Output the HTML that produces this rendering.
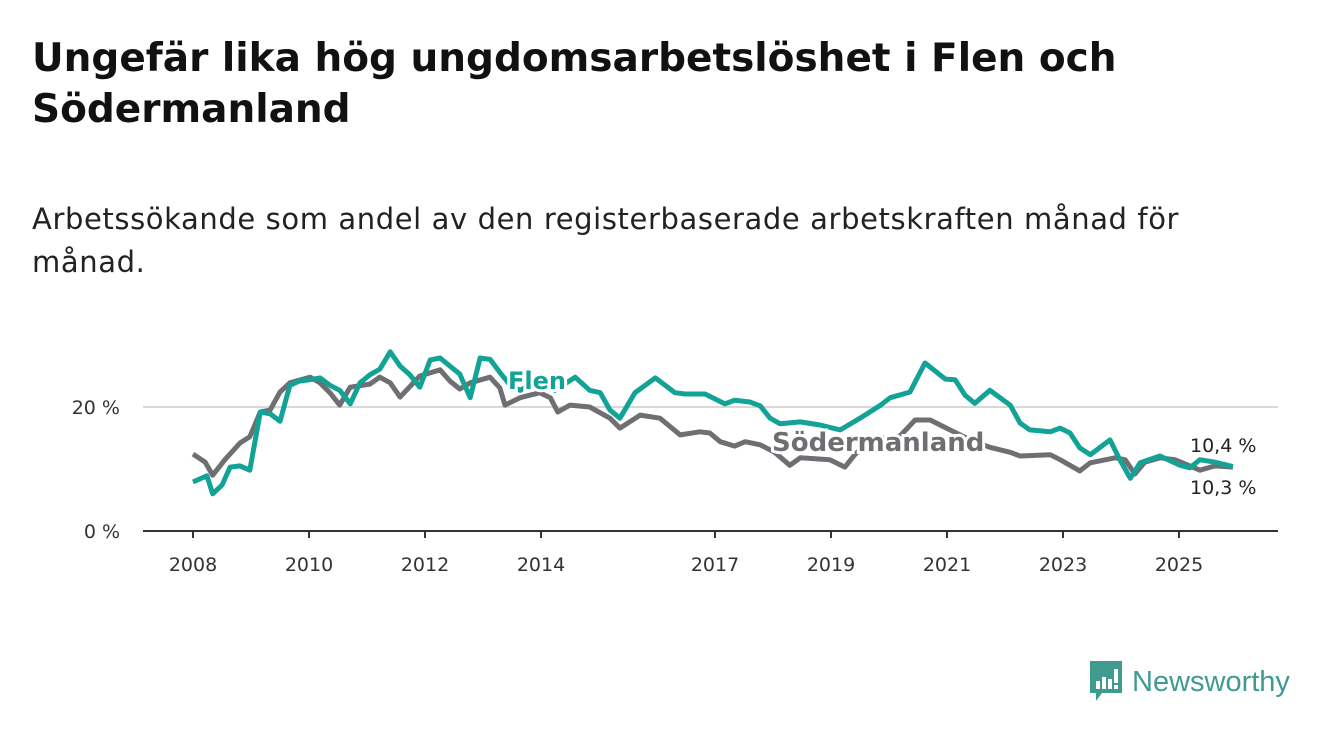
<!DOCTYPE html>
<html><head><meta charset="utf-8"><style>
body{margin:0;width:1340px;height:734px;background:#fff;font-family:"DejaVu Sans","Liberation Sans",sans-serif;overflow:hidden;position:relative}
h1{position:absolute;left:32px;top:33px;margin:0;font-size:39px;line-height:51px;font-weight:bold;color:#111;width:1300px;white-space:nowrap}
.sub{position:absolute;left:32px;top:198px;font-size:29px;letter-spacing:0.6px;line-height:43px;color:#222;width:1300px;white-space:nowrap}
svg{position:absolute;left:0;top:0}
</style></head><body>
<h1>Ungefär lika hög ungdomsarbetslöshet i Flen och<br>Södermanland</h1>
<div class="sub">Arbetssökande som andel av den registerbaserade arbetskraften månad för<br>månad.</div>
<svg id="chart" width="1340" height="734"></svg>
<script>
const flenDates=[2008.00,2008.24,2008.34,2008.50,2008.64,2008.81,2008.98,2009.16,2009.33,2009.50,2009.67,2009.84,2010.02,2010.19,2010.36,2010.53,2010.71,2010.88,2011.05,2011.22,2011.40,2011.57,2011.74,2011.91,2012.09,2012.26,2012.43,2012.60,2012.78,2012.95,2013.12,2013.29,2013.47,2013.64,2013.98,2014.24,2014.59,2014.84,2015.02,2015.19,2015.36,2015.62,2015.97,2016.14,2016.31,2016.48,2016.83,2017.17,2017.34,2017.60,2017.78,2017.95,2018.12,2018.47,2018.81,2019.16,2019.50,2019.84,2020.02,2020.36,2020.62,2020.97,2021.14,2021.31,2021.48,2021.74,2022.09,2022.26,2022.43,2022.78,2022.95,2023.12,2023.29,2023.47,2023.81,2023.98,2024.16,2024.33,2024.67,2025.02,2025.19,2025.36,2025.62,2025.93];
const flenValues=[7.9,8.9,6.0,7.4,10.3,10.5,9.8,19.2,18.9,17.7,23.5,24.2,24.4,24.7,23.5,22.7,20.5,23.9,25.2,26.1,28.9,26.6,25.2,23.2,27.6,27.9,26.6,25.3,21.5,27.9,27.7,25.6,23.5,22.7,24.4,22.7,24.8,22.7,22.3,19.5,18.2,22.3,24.7,23.5,22.3,22.1,22.1,20.5,21.1,20.8,20.2,18.2,17.3,17.6,17.1,16.3,18.2,20.2,21.5,22.4,27.1,24.5,24.4,21.9,20.6,22.7,20.3,17.4,16.3,16.0,16.6,15.8,13.4,12.3,14.7,11.5,8.5,11.0,12.1,10.6,10.2,11.5,11.1,10.4];
const sodDates=[2008.00,2008.21,2008.34,2008.55,2008.81,2008.98,2009.16,2009.33,2009.50,2009.67,2010.02,2010.19,2010.36,2010.53,2010.71,2011.05,2011.22,2011.40,2011.57,2011.91,2012.26,2012.43,2012.60,2012.78,2013.12,2013.29,2013.38,2013.64,2013.98,2014.16,2014.29,2014.50,2014.84,2015.19,2015.36,2015.71,2016.05,2016.40,2016.74,2016.91,2017.09,2017.34,2017.52,2017.78,2018.03,2018.29,2018.47,2018.98,2019.24,2019.41,2019.67,2020.19,2020.45,2020.71,2021.05,2021.40,2021.74,2022.09,2022.26,2022.78,2022.95,2023.29,2023.47,2023.90,2024.07,2024.24,2024.41,2024.67,2024.93,2025.36,2025.62,2025.93];
const sodValues=[12.4,11.1,9.0,11.5,14.2,15.2,19.2,19.5,22.4,23.9,24.8,23.9,22.3,20.3,23.2,23.7,24.8,23.9,21.6,25.0,26.0,24.2,22.9,23.9,24.8,23.1,20.3,21.5,22.3,21.5,19.2,20.3,20.0,18.2,16.6,18.7,18.2,15.5,16.0,15.8,14.4,13.7,14.4,13.9,12.7,10.6,11.8,11.5,10.3,12.3,14.7,15.3,17.9,17.9,16.3,14.7,13.5,12.7,12.1,12.3,11.5,9.7,11.0,11.8,11.5,9.2,11.1,11.8,11.5,9.8,10.5,10.3];
const yTicks=[0,20];
const yTickLabels=["0 %","20 %"];
const xTicks=[2008,2010,2012,2014,2017,2019,2021,2023,2025];

const NS="http://www.w3.org/2000/svg";
const svg=document.getElementById('chart');
const X=y=>193+(y-2008)*58;
const Y=v=>531-v*6.2;
function el(t,a,txt){const e=document.createElementNS(NS,t);for(const k in a)e.setAttribute(k,a[k]);if(txt!=null)e.textContent=txt;svg.appendChild(e);return e;}
yTicks.forEach((t,i)=>{
  if(t>0){const g=el('line',{x1:143,x2:1278,y1:Y(t),y2:Y(t),stroke:'#d8d8d8','stroke-width':2});
  
  }
  const l=el('text',{x:120,y:Y(t)+7,'text-anchor':'end','font-size':19,fill:'#333'},yTickLabels[i]);
  
  
});
const ax=el('line',{x1:143,x2:1278,y1:531,y2:531,stroke:'#333','stroke-width':2});


xTicks.forEach(t=>{
  const tk=el('line',{x1:X(t),x2:X(t),y1:531,y2:538,stroke:'#333','stroke-width':2});
  
  
  const l=el('text',{x:X(t),y:571,'text-anchor':'middle','font-size':19,fill:'#333'},String(t));
  
  
});
function path(d,v){return d.map((x,i)=>(i?'L':'M')+X(x).toFixed(1)+' '+Y(v[i]).toFixed(1)).join(' ');}
const sl=el('path',{d:path(sodDates,sodValues),fill:'none',stroke:'#6f6e72','stroke-width':5,'stroke-linejoin':'round'});


const fl=el('path',{d:path(flenDates,flenValues),fill:'none',stroke:'#12a396','stroke-width':5,'stroke-linejoin':'round'});


const lf=el('text',{x:508,y:389,'font-size':24,'font-weight':'bold',fill:'#12a396',stroke:'#fff','stroke-width':6,'paint-order':'stroke'},'Flen');


const ls=el('text',{x:772,y:451,'font-size':26,'font-weight':'bold',fill:'#6f6e72',stroke:'#fff','stroke-width':6,'paint-order':'stroke'},'Södermanland');


const v1=el('text',{x:1190,y:452,'font-size':19,fill:'#222'},'10,4 %');


const v2=el('text',{x:1190,y:494,'font-size':19,fill:'#222'},'10,3 %');


</script>
<div style="position:absolute;left:1088px;top:660px;height:44px;display:flex;align-items:center">
<svg width="36" height="42" viewBox="0 0 36 42" style="position:static"><path d="M2 0H34V32H14L8 40V32H2Z" fill="#3f9b8f"/><rect x="8" y="20" width="4" height="8" fill="#fff"/><rect x="14" y="16" width="4" height="12" fill="#fff"/><rect x="20" y="18" width="4" height="10" fill="#fff"/><rect x="26" y="8" width="4" height="14" fill="#fff"/><rect x="26" y="24" width="4" height="4" fill="#fff"/></svg>
<span style="font-family:'Liberation Sans',sans-serif;font-size:29px;color:#3f9b8f;margin-left:8px">Newsworthy</span></div>
</body></html>
